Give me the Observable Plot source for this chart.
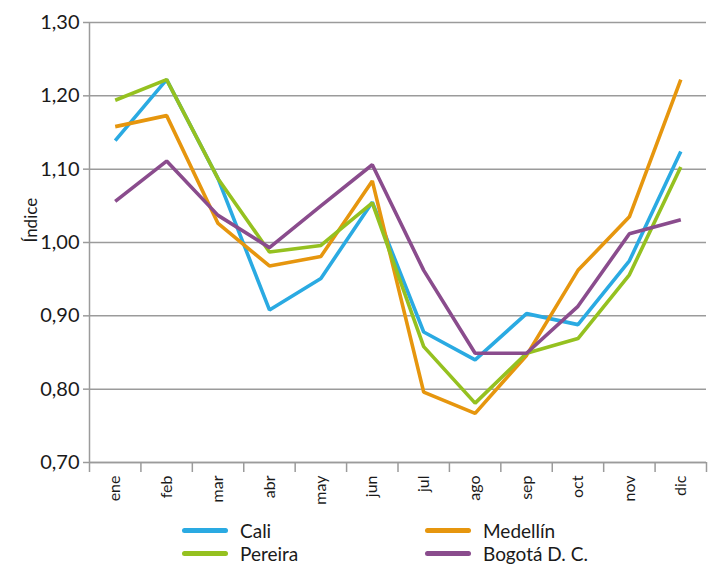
<!DOCTYPE html>
<html>
<head>
<meta charset="utf-8">
<script src="https://cdn.jsdelivr.net/npm/d3@7"></script>
<script src="https://cdn.jsdelivr.net/npm/@observablehq/plot@0.6"></script>
<style>
  body { margin: 0; background: #fff; font-family: Lato, "Open Sans", sans-serif; }
  #wrap { position: relative; width: 713px; height: 567px; }
  .leg { position: absolute; display: flex; align-items: center; font-size: 19px; color: #1a1a1a; height: 22px; }
  .sw { width: 46px; height: 5px; border-radius: 3px; margin-right: 12px; }
</style>
</head>
<body>
<div id="wrap"></div>
<script>
const months = ["ene","feb","mar","abr","may","jun","jul","ago","sep","oct","nov","dic"];
const cities = ["Cali","Medellín","Pereira","Bogotá D. C."];
const colors = ["#2aaae2","#e6960e","#95c120","#8a4c8d"];
const cali     = [1.139,1.222,1.087,0.908,0.951,1.055,0.878,0.840,0.903,0.888,0.975,1.124];
const medellin = [1.158,1.173,1.026,0.968,0.981,1.084,0.796,0.767,0.846,0.962,1.035,1.222];
const pereira  = [1.194,1.222,1.087,0.987,0.996,1.054,0.858,0.781,0.849,0.869,0.956,1.103];
const bogota   = [1.056,1.111,1.037,0.993,1.050,1.106,0.962,0.849,0.849,0.913,1.012,1.031];
const yTicks = [0.70,0.80,0.90,1.00,1.10,1.20,1.30];

const seriesVals = [cali, medellin, pereira, bogota];
const data = [];
cities.forEach((c, k) => seriesVals[k].forEach((v, i) => data.push({city: c, i, v})));
const boundaries = d3.range(months.length + 1).map(i => i - 0.5);
const gray = "#9b9b9b";

const chart = Plot.plot({
  width: 713,
  height: 512,
  marginLeft: 89,
  marginRight: 7,
  marginTop: 22,
  marginBottom: 50,
  style: {fontFamily: "Lato, 'Open Sans', sans-serif", color: "#1a1a1a", background: "#fff"},
  x: {type: "linear", domain: [-0.5, months.length - 0.5]},
  y: {domain: [0.70, 1.30]},
  color: {domain: cities, range: colors},
  marks: [
    Plot.gridY(yTicks, {stroke: gray, strokeOpacity: 1, strokeWidth: 1.5}),
    Plot.ruleY([0.70], {stroke: gray, strokeWidth: 1.5}),
    Plot.ruleX([-0.5], {stroke: gray, strokeWidth: 1.5}),
    Plot.axisY(yTicks, {
      tickFormat: d => d.toFixed(2).replace(".", ","),
      tickSize: 6, tickPadding: 4, fontSize: 20, stroke: gray, strokeWidth: 1.5, label: null
    }),
    Plot.axisX(boundaries, {tickSize: 10, tickFormat: () => "", stroke: gray, strokeWidth: 1.5, label: null}),
    Plot.axisX(d3.range(months.length), {
      tickSize: 0, tickPadding: 13, tickRotate: -90, fontSize: 16,
      tickFormat: i => months[i], label: null
    }),
    Plot.text(["Índice"], {frameAnchor: "left", dx: -58, rotate: -90, fontSize: 17, fill: "#1a1a1a"}),
    Plot.line(data, {x: "i", y: "v", z: "city", stroke: "city", strokeWidth: 3.6, strokeLinejoin: "miter", strokeLinecap: "butt"})
  ]
});

const wrap = document.getElementById("wrap");
wrap.appendChild(chart);

const legPos = [[182, 519], [425, 519], [182, 542], [425, 542]];
cities.forEach((c, k) => {
  const d = document.createElement("div");
  d.className = "leg";
  d.style.left = legPos[k][0] + "px";
  d.style.top = legPos[k][1] + "px";
  d.innerHTML = `<span class="sw" style="background:${colors[k]}"></span><span>${c}</span>`;
  wrap.appendChild(d);
});
</script>
</body>
</html>
